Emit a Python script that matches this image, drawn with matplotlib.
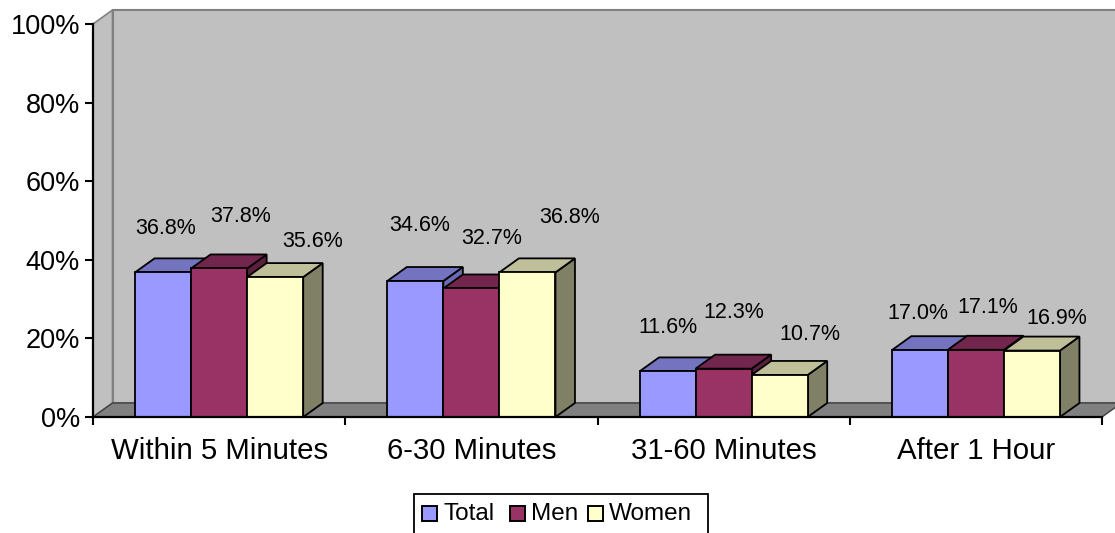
import numpy as np
import matplotlib as mpl
mpl.use('Agg')
import matplotlib.pyplot as plt
from matplotlib.patches import Polygon, Rectangle

plt.rcParams['font.family'] = ['Liberation Sans', 'DejaVu Sans']

categories = ["Within 5 Minutes", "6-30 Minutes", "31-60 Minutes", "After 1 Hour"]
series     = ["Total", "Men", "Women"]
total      = [36.8, 34.6, 11.6, 17.0]
men        = [37.8, 32.7, 12.3, 17.1]
women      = [35.6, 36.8, 10.7, 16.9]

# face colours per series: front, top, side
front_col = ["#9999FF", "#993366", "#FFFFCC"]
top_col   = ["#7373BF", "#73264D", "#BFBF99"]
side_col  = ["#6B6BB3", "#5C1F3D", "#808066"]

# label nudges in pixels (dx, dy) from the front top centre of each bar
label_nudge = [
    [(3, 44), (4, 56), (0, 44), (-2, 37)],
    [(21, 52), (20, 50), (10, 56), (12, 42)],
    [(37, 36), (42, 55), (30, 40), (25, 32)],
]

W, H = 1115, 533
fig = plt.figure(figsize=(W / 100, H / 100), dpi=100)
fig.patch.set_facecolor("white")

# axes frame in pixels: x 93..1102, y 24..417 (from top)
ax = fig.add_axes([93 / W, 1 - 417 / H, 1009 / W, 393 / H])
ax.set_xlim(0, len(categories))
ax.set_ylim(0, 100)
ax.patch.set_visible(False)

# depth of the 3d projection in data units
px_x = len(categories) / 1009.0
px_y = 100 / 393.0
ddx = 19.5 * px_x
ddy = 14 * px_y
ncat = len(categories)

# walls and floor
back = Polygon([(ddx, ddy), (ncat + ddx, ddy), (ncat + ddx, 100 + ddy), (ddx, 100 + ddy)],
               closed=True, facecolor="#C0C0C0", edgecolor="#808080", lw=1.5,
               clip_on=False, zorder=0)
side = Polygon([(0, 0), (ddx, ddy), (ddx, 100 + ddy), (0, 100)],
               closed=True, facecolor="#C0C0C0", edgecolor="#808080", lw=1.2,
               clip_on=False, zorder=0.5)
floor = Polygon([(0, 0), (ncat, 0), (ncat + ddx, ddy), (ddx, ddy)],
                closed=True, facecolor="#808080", edgecolor="#404040", lw=1.0,
                clip_on=False, zorder=0.6)
for p in (back, side, floor):
    ax.add_patch(p)

# bars, drawn left to right so each bar hides its neighbour's side
data = [total, men, women]
bw = 2.0 / 9
start = 1.0 / 6
for c in range(ncat):
    for s in range(len(series)):
        x0 = c + start + s * bw
        x1 = x0 + bw
        h = data[s][c]
        sideface = Polygon([(x1, 0), (x1 + ddx, ddy), (x1 + ddx, h + ddy), (x1, h)],
                           facecolor=side_col[s], edgecolor="black", lw=1.3,
                           clip_on=False, zorder=2)
        topface = Polygon([(x0, h), (x1, h), (x1 + ddx, h + ddy), (x0 + ddx, h + ddy)],
                          facecolor=top_col[s], edgecolor="black", lw=1.3,
                          clip_on=False, zorder=2)
        frontface = Polygon([(x0, 0), (x1, 0), (x1, h), (x0, h)],
                            facecolor=front_col[s], edgecolor="black", lw=1.3,
                            clip_on=False, zorder=2)
        ax.add_patch(sideface)
        ax.add_patch(topface)
        ax.add_patch(frontface)
        nx, ny = label_nudge[s][c]
        ax.annotate("%.1f%%" % h, xy=((x0 + x1) / 2, h), xytext=(nx, ny),
                    textcoords="offset pixels", ha="center", va="center",
                    fontsize=15.5, color="black", zorder=3)

# axes lines and ticks
for name in ("top", "right"):
    ax.spines[name].set_visible(False)
for name in ("left", "bottom"):
    ax.spines[name].set_linewidth(1.6)
    ax.spines[name].set_zorder(4)
ax.set_yticks(np.arange(0, 101, 20))
ax.set_yticklabels(["%d%%" % v for v in range(0, 101, 20)], fontsize=19.5)
ax.set_xticks(np.arange(0, ncat + 1))
ax.set_xticklabels([])
ax.set_xticks(np.arange(ncat) + 0.5, minor=True)
ax.set_xticklabels(categories, minor=True, fontsize=21.2)
ax.tick_params(axis="y", direction="out", length=5.8, width=1.5, pad=3.5)
ax.tick_params(axis="x", which="major", direction="out", length=5.8, width=1.5)
ax.tick_params(axis="x", which="minor", length=0, pad=14.5)

# legend box at the bottom, partly cut by the figure edge
def fx(x):
    return x / W

def fy(y):
    return 1 - y / H

fig.patches.append(Rectangle((fx(414), fy(540)), fx(708) - fx(414), fy(494) - fy(540),
                             transform=fig.transFigure, facecolor="white",
                             edgecolor="black", lw=1.3, clip_on=False))
key_x = [422, 510, 588]
for s, name in enumerate(series):
    fig.patches.append(Rectangle((fx(key_x[s]), fy(521)), 15 / W, 15 / H,
                                 transform=fig.transFigure, facecolor=front_col[s],
                                 edgecolor="black", lw=1.4))
    fig.text(fx(key_x[s] + 21), fy(514), name, ha="left", va="center", fontsize=17.5)

fig.savefig("out.png", dpi=100)
